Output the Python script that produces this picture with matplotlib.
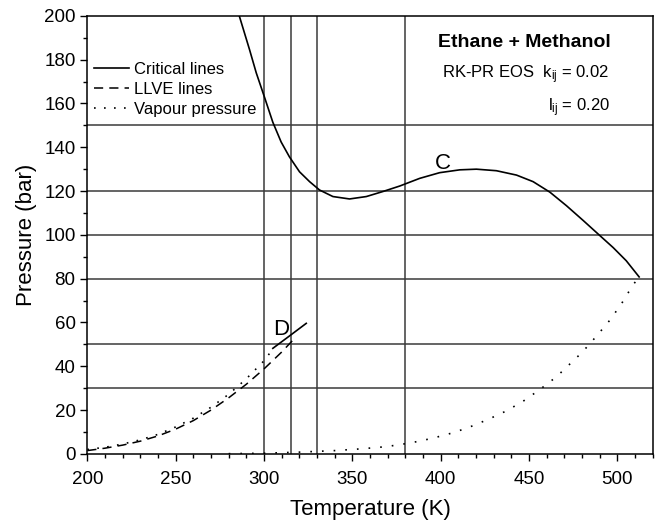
import numpy as np
import matplotlib
matplotlib.use('Agg')
import matplotlib.pyplot as plt
from matplotlib.ticker import MultipleLocator

plt.rcParams['font.family'] = ['Liberation Sans', 'DejaVu Sans']
plt.rcParams['mathtext.fontset'] = 'custom'
plt.rcParams['mathtext.rm'] = 'Liberation Sans'
plt.rcParams['mathtext.it'] = 'Liberation Sans'

# ── data ────────────────────────────────────────────────────────────────────
# critical line C (from the top down to the methanol critical point)
T_crit = [286, 291.8, 295.6, 300.3, 305, 309.7, 314.4, 320.1, 325.8, 331.4,
          339, 348.4, 357.9, 367.3, 376.8, 388.1, 399.4, 410.8, 420.2, 431.5,
          442.9, 452.3, 461.8, 471.2, 480.6, 491, 497.6, 505, 512.3]
P_crit = [200, 184.6, 174, 162.8, 151.4, 142.4, 135.6, 128.8, 124.3, 120.5,
          117.5, 116.4, 117.5, 119.8, 122.3, 125.8, 128.4, 129.7, 130, 129.3,
          127.3, 124.3, 119.5, 113.3, 106.6, 99.0, 94.2, 88.2, 80.8]

# critical line D (from the ethane critical point)
T_crit_d = [305, 314, 323.9]
P_crit_d = [48.2, 53.6, 59.6]

# LLVE line
T_llve = [200, 210, 220, 230, 240, 250, 260, 270, 280, 290, 300, 310, 317]
P_llve = [1.5, 2.6, 4.0, 5.8, 8.2, 11.3, 15.2, 20.0, 25.6, 31.8, 38.8, 46.5, 52.5]

# vapour pressure of ethane
T_vp_eth = [200, 210, 220, 230, 240, 250, 260, 270, 280, 290, 300, 305.3]
P_vp_eth = [2.0, 3.0, 4.5, 6.4, 8.9, 12.3, 16.3, 21.3, 27.2, 34.3, 42.5, 48.2]

# vapour pressure of methanol
T_vp_met = [280, 300, 320, 340, 355, 369.2, 378.9, 388.7, 398, 407.7, 417.4,
            427, 436.6, 446.4, 455.8, 465.5, 475, 480.2, 488.3, 496.2, 502.8,
            508.7, 512.3]
P_vp_met = [0.1, 0.3, 0.8, 1.5, 2.3, 3.3, 4.5, 5.9, 7.7, 9.8, 12.6,
            15.8, 19.4, 23.9, 29.2, 35.2, 42.5, 46.5, 53.9, 61.5, 69.2,
            77.0, 80.8]

# reference grid lines
P_hlines = [150, 120, 100, 80, 50, 30]
T_vlines = [300, 315, 330, 380]

fig = plt.figure(figsize=(6.59, 5.29), dpi=100)
ax = fig.add_axes([0.1325, 0.142, 0.858, 0.828])

for p in P_hlines:
    ax.axhline(p, color='#3a3a3a', linewidth=1.1, zorder=1)
for t in T_vlines:
    ax.axvline(t, color='#3a3a3a', linewidth=1.1, zorder=1)

ax.plot(T_crit, P_crit, '-', color='black', linewidth=1.2, label='Critical lines')
ax.plot(T_crit_d, P_crit_d, '-', color='black', linewidth=1.2)
ax.plot(T_llve, P_llve, color='black', linewidth=1.1, linestyle=(0, (6, 4)),
        label='LLVE lines')
ax.plot(T_vp_eth, P_vp_eth, color='black', linewidth=1.2, linestyle=(0, (1, 5)),
        label='Vapour pressure')
ax.plot(T_vp_met, P_vp_met, color='black', linewidth=1.2, linestyle=(0, (1, 6)))

ax.text(401, 132.5, 'C', fontsize=16, ha='center', va='center')
ax.text(309.5, 57, 'D', fontsize=16, ha='center', va='center')

ax.text(447.5, 188, 'Ethane + Methanol', fontsize=14, fontweight='bold',
        ha='center', va='center')
ax.text(401, 173, 'RK-PR EOS  $k_{ij}$ = 0.02', fontsize=12, ha='left', va='center')
ax.text(461, 158, '$l_{ij}$ = 0.20', fontsize=12, ha='left', va='center')

ax.set_xlim(200, 520)
ax.set_ylim(0, 200)
ax.xaxis.set_major_locator(MultipleLocator(50))
ax.xaxis.set_minor_locator(MultipleLocator(10))
ax.yaxis.set_major_locator(MultipleLocator(20))
ax.yaxis.set_minor_locator(MultipleLocator(10))
ax.tick_params(which='major', direction='out', length=5, width=1, labelsize=13.5)
ax.tick_params(axis='x', which='major', pad=7.5)
ax.tick_params(which='minor', direction='out', length=3, width=1)
for s in ax.spines.values():
    s.set_linewidth(1.1)

ax.set_xlabel('Temperature (K)', fontsize=16, labelpad=8)
ax.set_ylabel('Pressure (bar)', fontsize=16, labelpad=5)

ax.legend(loc='upper left', bbox_to_anchor=(0.0, 0.911), frameon=False,
          fontsize=12, handlelength=2.1, handletextpad=0.3, labelspacing=0.31,
          borderaxespad=0.0)

fig.savefig('out.png', dpi=100)
